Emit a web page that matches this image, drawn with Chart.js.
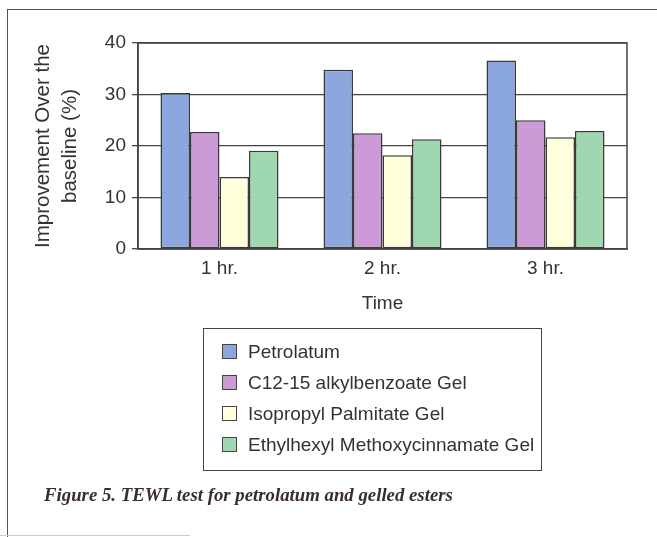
<!DOCTYPE html>
<html>
<head>
<meta charset="utf-8">
<script src="https://cdn.jsdelivr.net/npm/chart.js@4/dist/chart.umd.min.js"></script>
<style>
  html, body { margin: 0; padding: 0; background: #fff; }
  #wrap { position: relative; width: 657px; height: 537px; overflow: hidden; }
  #frame { position: absolute; left: 7px; top: 9px; width: 660px; height: 540px;
           border-left: 1.5px solid #555; border-top: 1.5px solid #555; }
  #foot { position: absolute; left: 0; top: 535px; width: 190px; border-top: 1px solid #ccc; }
  canvas { position: absolute; left: 0; top: 0; }
  #legend { position: absolute; left: 203px; top: 328px; width: 339px; height: 143px;
            border: 1.5px solid #444; box-sizing: border-box;
            font-family: "Liberation Sans", Arial, sans-serif; font-size: 19px; color: #333; }
  .item { position: absolute; left: 18px; height: 22px; line-height: 22px; white-space: nowrap; }
  .sw { display: inline-block; width: 13px; height: 13px; border: 1.5px solid #444;
        vertical-align: -1px; margin-right: 11px; }
  #caption { position: absolute; left: 44px; top: 484px; white-space: nowrap;
             font-family: "Liberation Serif", "DejaVu Serif", serif; font-weight: bold;
             font-style: italic; font-size: 18.8px; color: #3b2d2d; }
</style>
</head>
<body>
<div id="wrap">
  <div id="frame"></div>
  <div id="foot"></div>
  <canvas id="c" width="657" height="537"></canvas>
  <div id="legend"></div>
  <div id="caption">Figure 5. TEWL test for petrolatum and gelled esters</div>
</div>
<script>
// Time points and measured improvement (%) for each formulation
const categories = ['1 hr.', '2 hr.', '3 hr.'];
const seriesNames = ['Petrolatum', 'C12-15 alkylbenzoate Gel', 'Isopropyl Palmitate Gel', 'Ethylhexyl Methoxycinnamate Gel'];
const petrolatum = [30.3, 34.8, 36.6];
const alkylbenzoate = [22.7, 22.5, 25.0];
const isopropylPalmitate = [14.0, 18.2, 21.7];
const ethylhexylMethoxycinnamate = [19.1, 21.3, 22.9];
const seriesColors = ['#8ca7dd', '#cc9ad6', '#ffffdc', '#9fd8b0'];
const yTicks = [0, 10, 20, 30, 40];

const seriesValues = [petrolatum, alkylbenzoate, isopropylPalmitate, ethylhexylMethoxycinnamate];
const FONT = 'Liberation Sans';

// Box around the plotting area
const plotFrame = {
  id: 'plotFrame',
  beforeDatasetsDraw(chart) {
    const a = chart.chartArea, ctx = chart.ctx;
    ctx.save();
    ctx.strokeStyle = '#444';
    ctx.lineWidth = 1.5;
    ctx.strokeRect(a.left, a.top, a.right - a.left, a.bottom - a.top);
    ctx.restore();
  }
};

const chart = new Chart(document.getElementById('c'), {
  type: 'bar',
  data: {
    labels: categories,
    datasets: seriesNames.map((name, i) => ({
      label: name,
      data: seriesValues[i],
      backgroundColor: seriesColors[i],
      borderColor: '#3a3a3a',
      borderWidth: 1.5,
      borderSkipped: false,
      categoryPercentage: 0.724,
      barPercentage: 1.0
    }))
  },
  options: {
    responsive: false,
    animation: false,
    devicePixelRatio: 1,
    layout: { padding: { left: 0, top: 43, right: 30, bottom: 218 } },
    plugins: { legend: { display: false }, tooltip: { enabled: false } },
    scales: {
      x: {
        grid: { display: false },
        border: { display: true, color: '#444', width: 1.5 },
        ticks: { color: '#333', font: { family: FONT, size: 19 }, padding: 0 },
        title: { display: true, text: 'Time', color: '#333',
                 font: { family: FONT, size: 19 }, padding: { top: 9 } },
        afterFit(s) { s.height = 70; }
      },
      y: {
        min: 0, max: 40,
        grid: { color: '#444', lineWidth: 1.3, tickLength: 6, tickColor: '#444' },
        border: { display: true, color: '#444', width: 1.5 },
        ticks: {
          stepSize: 5,
          color: '#333',
          font: { family: FONT, size: 19 },
          padding: 6,
          callback: v => (yTicks.includes(v) ? String(v) : '')
        },
        title: { display: true, text: ['Improvement Over the', 'baseline (%)'], color: '#333',
                 font: { family: FONT, size: 20.5, lineHeight: 1.3 }, padding: { top: 30, bottom: 0 } },
        afterFit(s) { s.width = 138; }
      }
    }
  },
  plugins: [plotFrame]
});

// Legend built from the chart's datasets
const legend = document.getElementById('legend');
chart.data.datasets.forEach((ds, i) => {
  const row = document.createElement('div');
  row.className = 'item';
  row.style.top = (12 + i * 31) + 'px';
  const sw = document.createElement('span');
  sw.className = 'sw';
  sw.style.background = ds.backgroundColor;
  row.appendChild(sw);
  row.appendChild(document.createTextNode(ds.label));
  legend.appendChild(row);
});
</script>
</body>
</html>
